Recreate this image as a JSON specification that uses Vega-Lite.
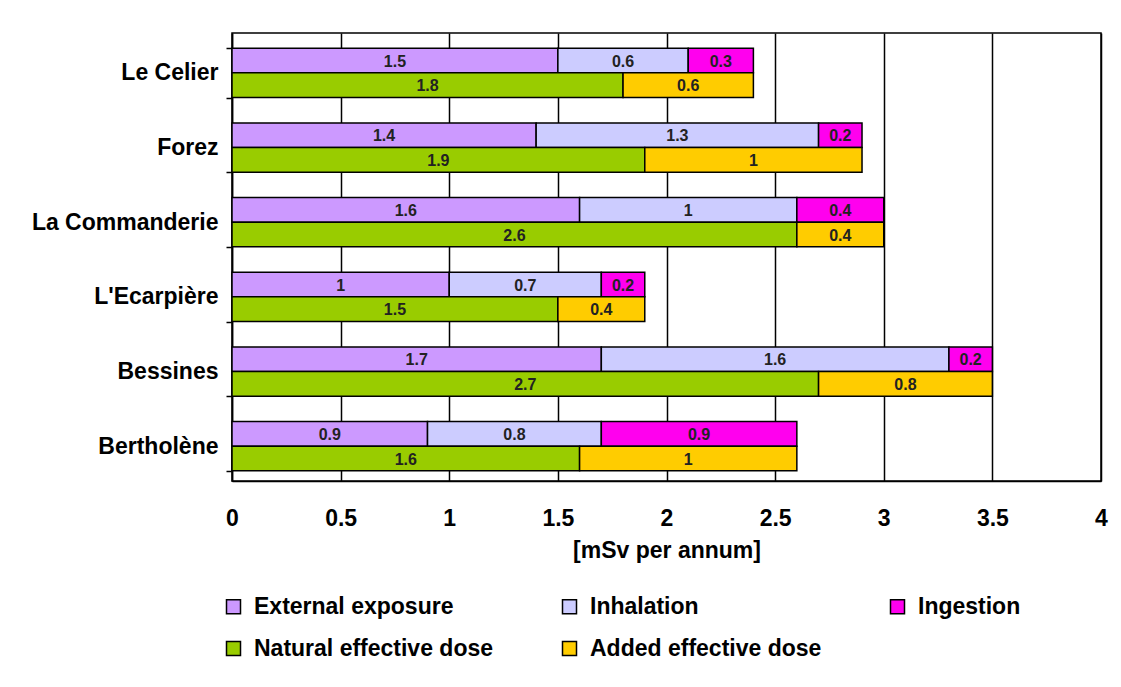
{
  "$schema": "https://vega.github.io/schema/vega-lite/v6.json",
  "width": 869,
  "height": 448,
  "autosize": {"type": "none"},
  "padding": {"left": 232, "top": 33, "right": 20, "bottom": 206},
  "background": "white",
  "config": {
    "font": "Liberation Sans",
    "view": {"stroke": "black", "strokeWidth": 1.5},
    "legend": {
      "orient": "none",
      "direction": "horizontal",
      "legendX": -10,
      "legendY": 562,
      "columns": 3,
      "columnPadding": 64,
      "rowPadding": 18,
      "symbolType": "square",
      "symbolSize": 196,
      "symbolStrokeColor": "black",
      "symbolStrokeWidth": 1.5,
      "labelFontSize": 23,
      "labelFontWeight": "bold",
      "labelColor": "black",
      "labelOffset": 9,
      "labelLimit": 400
    }
  },
  "data": {
    "values": [
      {"site": "Le Celier", "row": "top", "category": "External exposure", "order": 1, "value": 1.5},
      {"site": "Le Celier", "row": "top", "category": "Inhalation", "order": 2, "value": 0.6},
      {"site": "Le Celier", "row": "top", "category": "Ingestion", "order": 3, "value": 0.3},
      {"site": "Le Celier", "row": "bottom", "category": "Natural effective dose", "order": 4, "value": 1.8},
      {"site": "Le Celier", "row": "bottom", "category": "Added effective dose", "order": 5, "value": 0.6},
      {"site": "Forez", "row": "top", "category": "External exposure", "order": 1, "value": 1.4},
      {"site": "Forez", "row": "top", "category": "Inhalation", "order": 2, "value": 1.3},
      {"site": "Forez", "row": "top", "category": "Ingestion", "order": 3, "value": 0.2},
      {"site": "Forez", "row": "bottom", "category": "Natural effective dose", "order": 4, "value": 1.9},
      {"site": "Forez", "row": "bottom", "category": "Added effective dose", "order": 5, "value": 1},
      {"site": "La Commanderie", "row": "top", "category": "External exposure", "order": 1, "value": 1.6},
      {"site": "La Commanderie", "row": "top", "category": "Inhalation", "order": 2, "value": 1},
      {"site": "La Commanderie", "row": "top", "category": "Ingestion", "order": 3, "value": 0.4},
      {"site": "La Commanderie", "row": "bottom", "category": "Natural effective dose", "order": 4, "value": 2.6},
      {"site": "La Commanderie", "row": "bottom", "category": "Added effective dose", "order": 5, "value": 0.4},
      {"site": "L'Ecarpière", "row": "top", "category": "External exposure", "order": 1, "value": 1},
      {"site": "L'Ecarpière", "row": "top", "category": "Inhalation", "order": 2, "value": 0.7},
      {"site": "L'Ecarpière", "row": "top", "category": "Ingestion", "order": 3, "value": 0.2},
      {"site": "L'Ecarpière", "row": "bottom", "category": "Natural effective dose", "order": 4, "value": 1.5},
      {"site": "L'Ecarpière", "row": "bottom", "category": "Added effective dose", "order": 5, "value": 0.4},
      {"site": "Bessines", "row": "top", "category": "External exposure", "order": 1, "value": 1.7},
      {"site": "Bessines", "row": "top", "category": "Inhalation", "order": 2, "value": 1.6},
      {"site": "Bessines", "row": "top", "category": "Ingestion", "order": 3, "value": 0.2},
      {"site": "Bessines", "row": "bottom", "category": "Natural effective dose", "order": 4, "value": 2.7},
      {"site": "Bessines", "row": "bottom", "category": "Added effective dose", "order": 5, "value": 0.8},
      {"site": "Bertholène", "row": "top", "category": "External exposure", "order": 1, "value": 0.9},
      {"site": "Bertholène", "row": "top", "category": "Inhalation", "order": 2, "value": 0.8},
      {"site": "Bertholène", "row": "top", "category": "Ingestion", "order": 3, "value": 0.9},
      {"site": "Bertholène", "row": "bottom", "category": "Natural effective dose", "order": 4, "value": 1.6},
      {"site": "Bertholène", "row": "bottom", "category": "Added effective dose", "order": 5, "value": 1}
    ]
  },
  "transform": [
    {"stack": "value", "groupby": ["site", "row"], "sort": [{"field": "order"}], "as": ["v0", "v1"]},
    {"calculate": "(datum.v0 + datum.v1) / 2", "as": "mid"}
  ],
  "encoding": {
    "y": {
      "field": "site",
      "type": "nominal",
      "sort": ["Le Celier", "Forez", "La Commanderie", "L'Ecarpière", "Bessines", "Bertholène"],
      "scale": {"paddingInner": 0.34, "paddingOuter": 0.17, "align": 0.6},
      "axis": {
        "title": null,
        "tickBand": "extent",
        "tickSize": 6,
        "tickWidth": 1.5,
        "tickColor": "black",
        "domainColor": "black",
        "domainWidth": 1.5,
        "labelFontSize": 23,
        "labelFontWeight": "bold",
        "labelColor": "black",
        "labelPadding": 8,
        "labelLimit": 300
      }
    },
    "yOffset": {
      "field": "row",
      "type": "nominal",
      "sort": ["top", "bottom"],
      "scale": {"paddingInner": 0, "paddingOuter": 0}
    }
  },
  "layer": [
    {
      "mark": {"type": "bar", "stroke": "black", "strokeWidth": 1.5, "cornerRadius": 0},
      "encoding": {
        "x": {
          "field": "v0",
          "type": "quantitative",
          "scale": {"domain": [0, 4], "nice": false},
          "axis": {
            "values": [0, 0.5, 1, 1.5, 2, 2.5, 3, 3.5, 4],
            "format": "~g",
            "grid": true,
            "gridColor": "black",
            "gridWidth": 1.5,
            "gridOpacity": 1,
            "ticks": false,
            "domainColor": "black",
            "domainWidth": 1.5,
            "labelFontSize": 23,
            "labelFontWeight": "bold",
            "labelColor": "black",
            "labelPadding": 26,
            "labelFlush": false,
            "labelOverlap": false,
            "title": "[mSv per annum]",
            "titleFontSize": 23,
            "titleFontWeight": "bold",
            "titleColor": "black",
            "titlePadding": 9
          }
        },
        "x2": {"field": "v1"},
        "color": {
          "field": "category",
          "type": "nominal",
          "scale": {
            "domain": ["External exposure", "Inhalation", "Ingestion", "Natural effective dose", "Added effective dose"],
            "range": ["#CC99FF", "#CCCCFF", "#FF00EE", "#99CC00", "#FFCC00"]
          },
          "legend": {"title": null}
        }
      }
    },
    {
      "mark": {"type": "text", "fontSize": 16, "fontWeight": "bold", "color": "#222222", "baseline": "middle", "dy": 1},
      "encoding": {
        "x": {"field": "mid", "type": "quantitative"},
        "text": {"field": "value", "type": "quantitative"}
      }
    }
  ]
}
